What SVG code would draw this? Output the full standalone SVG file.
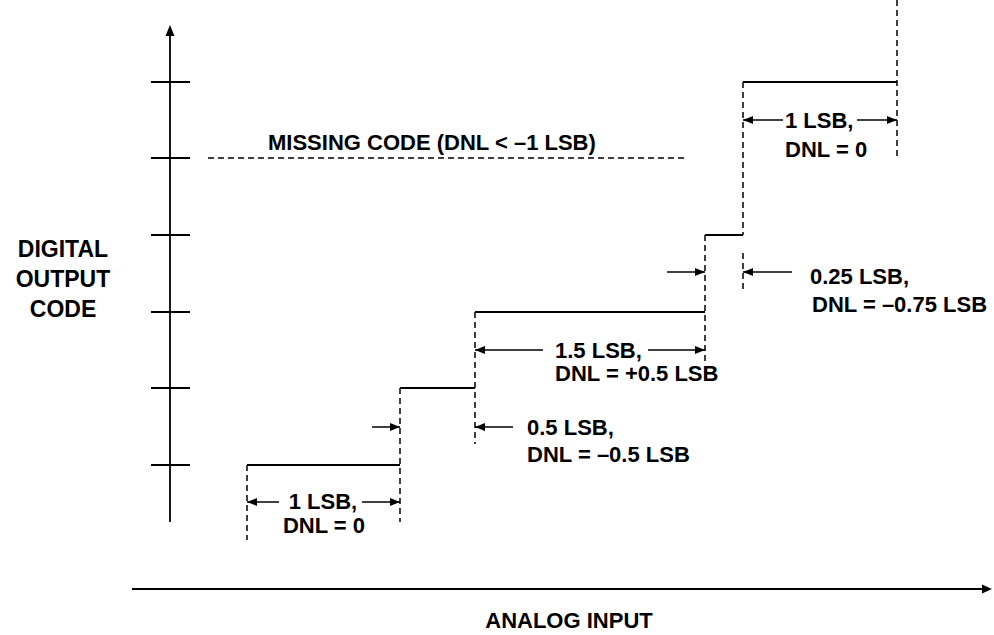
<svg xmlns="http://www.w3.org/2000/svg" width="994" height="635" viewBox="0 0 994 635">
<defs>
<marker id="ah" viewBox="0 0 10 8" refX="10" refY="4" markerWidth="10" markerHeight="8" markerUnits="userSpaceOnUse" orient="auto">
<path d="M0,0 L10,4 L0,8 Z" fill="#000"/>
</marker>
</defs>
<style>
.s{stroke:#000;stroke-width:1.8;fill:none}
.d{stroke:#000;stroke-width:1.5;fill:none;stroke-dasharray:6,4}
.a{stroke:#000;stroke-width:1.5;fill:none;marker-end:url(#ah)}
.t{font-family:"Liberation Sans",Arial,sans-serif;font-weight:bold;font-size:22px;fill:#000}
.L{font-family:"Liberation Sans",Arial,sans-serif;font-weight:bold;font-size:23px;fill:#000}
</style>
<rect width="994" height="635" fill="#fff"/>
<g id="axes">
<line class="s" x1="170" y1="522" x2="170" y2="34"/>
<path d="M165.5,36 L170,25 L174.5,36 Z" fill="#000"/>
<line class="s" x1="132" y1="589" x2="983" y2="589"/>
<path d="M982,584.5 L992,589 L982,593.5 Z" fill="#000"/>
<line class="s" x1="151" y1="82" x2="190" y2="82"/>
<line class="s" x1="151" y1="158" x2="190" y2="158"/>
<line class="s" x1="151" y1="235" x2="190" y2="235"/>
<line class="s" x1="151" y1="312" x2="190" y2="312"/>
<line class="s" x1="151" y1="388" x2="190" y2="388"/>
<line class="s" x1="151" y1="465" x2="190" y2="465"/>
</g>
<g id="steps">
<polyline class="s" points="247,465 400,465"/>
<polyline class="s" points="400,388 475,388"/>
<polyline class="s" points="475,312 705,312"/>
<polyline class="s" points="705,235 743,235"/>
<polyline class="s" points="743,82 897,82"/>
</g>
<g id="connectors">
<line class="d" x1="247" y1="465" x2="247" y2="540"/>
<line class="d" x1="400" y1="388" x2="400" y2="522"/>
<line class="d" x1="475" y1="312" x2="475" y2="444"/>
<line class="d" x1="705" y1="235" x2="705" y2="362"/>
<line class="d" x1="743" y1="82" x2="743" y2="235"/>
<line class="d" x1="743" y1="253" x2="743" y2="293"/>
<line class="d" x1="897" y1="0" x2="897" y2="156"/>
<line class="d" x1="208" y1="158" x2="684" y2="158"/>
<line class="a" x1="279" y1="502" x2="247" y2="502"/>
<line class="a" x1="362" y1="502" x2="400" y2="502"/>
<line class="a" x1="372" y1="427" x2="400" y2="427"/>
<line class="a" x1="513" y1="427" x2="475" y2="427"/>
<line class="a" x1="543" y1="350" x2="475" y2="350"/>
<line class="a" x1="648" y1="350" x2="705" y2="350"/>
<line class="a" x1="667" y1="272" x2="705" y2="272"/>
<line class="a" x1="792" y1="272" x2="743" y2="272"/>
<line class="a" x1="783" y1="120" x2="743" y2="120"/>
<line class="a" x1="857" y1="120" x2="897" y2="120"/>
</g>
<g id="labels">
<text class="t" x="323" y="509" text-anchor="middle">1 LSB,</text>
<text class="t" x="324" y="533" text-anchor="middle">DNL = 0</text>
<text class="t" x="268" y="150">MISSING CODE (DNL &lt; –1 LSB)</text>
<text class="t" x="555" y="358">1.5 LSB,</text>
<text class="t" x="555" y="381">DNL = +0.5 LSB</text>
<text class="t" x="527" y="435">0.5 LSB,</text>
<text class="t" x="527" y="462">DNL = –0.5 LSB</text>
<text class="t" x="810" y="284">0.25 LSB,</text>
<text class="t" x="812" y="312">DNL = –0.75 LSB</text>
<text class="t" x="785" y="128">1 LSB,</text>
<text class="t" x="785" y="157">DNL = 0</text>
<text class="L" x="63" y="257" text-anchor="middle">DIGITAL</text>
<text class="L" x="63" y="287" text-anchor="middle">OUTPUT</text>
<text class="L" x="63" y="317" text-anchor="middle">CODE</text>
<text class="t" x="569" y="628" text-anchor="middle">ANALOG INPUT</text>
</g>
</svg>
